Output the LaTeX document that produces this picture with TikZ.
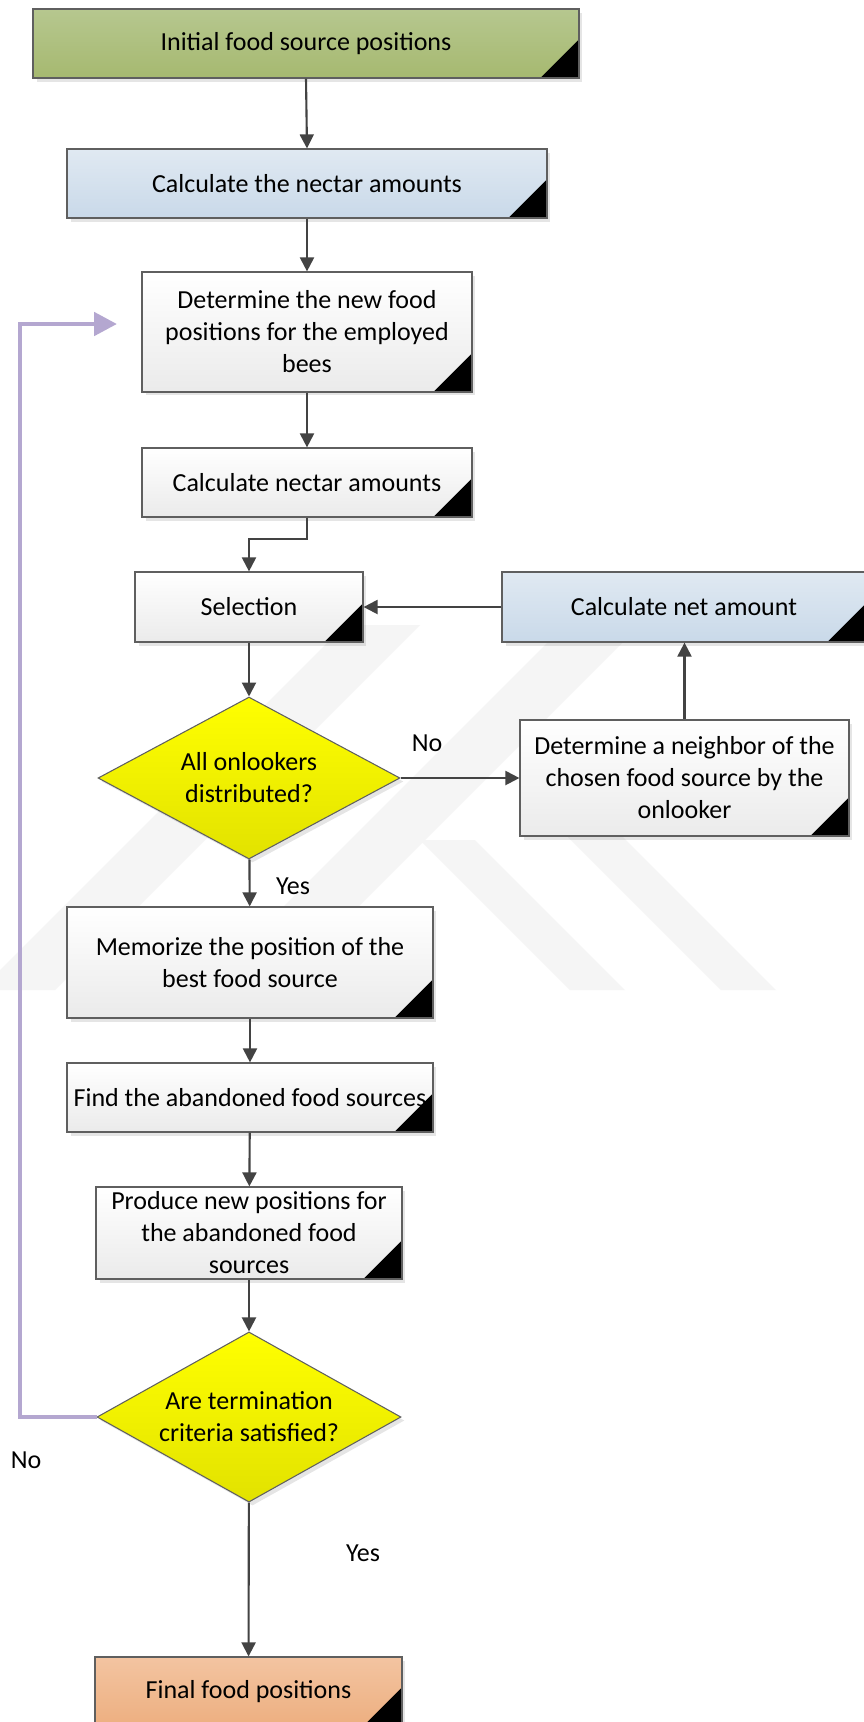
\documentclass[tikz,border=0pt]{standalone}
\usepackage{fontspec}
\setmainfont{Carlito}
\usetikzlibrary{arrows.meta,shapes.geometric,shadows}

\definecolor{edgec}{HTML}{5F5F5F}
\definecolor{arrowc}{HTML}{434343}
\definecolor{loopc}{HTML}{B4A7D0}
\definecolor{greentop}{HTML}{B6C78F}
\definecolor{greenbot}{HTML}{A6B970}
\definecolor{bluetop}{HTML}{E0E9F2}
\definecolor{bluebot}{HTML}{C9D9E9}
\definecolor{orangetop}{HTML}{F3C4A1}
\definecolor{orangebot}{HTML}{EDAF80}
\definecolor{yellowbot}{HTML}{E2E200}

\begin{document}
\begin{tikzpicture}[x=0.02cm,y=-0.02cm,
    box/.style={draw=edgec,line width=0.7pt,top color=white,bottom color=black!8,
        minimum height=1.38cm,inner sep=0pt,align=center,
        font=\fontsize{14.8pt}{18.2pt}\selectfont,
        drop shadow={shadow xshift=0.07cm,shadow yshift=-0.07cm,fill=black,opacity=0.1},
        path picture={\fill[black] (path picture bounding box.south east) -- ++(-0.77cm,0) -- ++(0.77cm,0.77cm) -- cycle;}},
    greenbox/.style={box,top color=greentop,bottom color=greenbot},
    bluebox/.style={box,top color=bluetop,bottom color=bluebot},
    orangebox/.style={box,top color=orangetop,bottom color=orangebot},
    cond/.style={diamond,draw=edgec,line width=0.6pt,top color=yellow,bottom color=yellowbot,
        inner sep=-0.3cm,align=center,font=\fontsize{14.8pt}{18.2pt}\selectfont,
        drop shadow={shadow xshift=0.07cm,shadow yshift=-0.07cm,fill=black,opacity=0.1}},
    lbl/.style={inner sep=0pt,font=\fontsize{14.8pt}{18.2pt}\selectfont},
    line/.style={draw=arrowc,line width=1.2pt,-{Triangle[length=0.28cm,width=0.28cm]}},
    loopline/.style={draw=loopc,line width=2.8pt,-{Triangle[length=0.46cm,width=0.46cm]}},
    wmark/.style={fill=black!4}]
    \useasboundingbox (0,0) rectangle (863,1722);
    \fill[white] (0,0) rectangle (863,1722);
    % faint watermark behind the chart
    \foreach \a/\t in {-20/625,200/630} \fill[wmark] (\a,990) -- ++(75,0) -- (\a+75+990-\t,\t) -- ++(-75,0) -- cycle;
    \foreach \a/\t in {420/840,568/837} \fill[wmark] (\a,\t) -- ++(55,0) -- (\a+55+990-\t,990) -- ++(-55,0) -- cycle;

    \node[greenbox,minimum width=10.92cm] (init) at (306,43.5) {Initial food source positions};
    \node[bluebox,minimum width=9.60cm] (nectar) at (307,183.5) {Calculate the nectar amounts};
    \node[box,minimum width=6.60cm,minimum height=2.40cm] (employed) at (307,332) {Determine the new food\\positions for the employed\\bees};
    \node[box,minimum width=6.60cm] (nectarb) at (307,482.5) {Calculate nectar amounts};
    \node[box,minimum width=4.56cm,minimum height=1.40cm] (select) at (249,607) {Selection};
    \node[bluebox,minimum width=7.28cm,minimum height=1.40cm] (net) at (684,607) {Calculate net amount};
    \node[cond,minimum width=6.04cm,minimum height=3.24cm] (onlook) at (249,778) {All onlookers\\distributed?};
    \node[box,minimum width=6.58cm,minimum height=2.32cm] (neighbor) at (684.5,778) {Determine a neighbor of the\\chosen food source by the\\onlooker};
    \node[box,minimum width=7.32cm,minimum height=2.22cm] (memo) at (250,962.5) {Memorize the position of the\\best food source};
    \node[box,minimum width=7.32cm] (find) at (250,1097.5) {Find the abandoned food sources};
    \node[box,minimum width=6.12cm,minimum height=1.84cm] (produce) at (249,1233) {Produce new positions for\\the abandoned food\\sources};
    \node[cond,minimum width=6.08cm,minimum height=3.26cm] (term) at (249,1417) {Are termination\\criteria satisfied?};
    \node[orangebox,minimum width=6.14cm] (final) at (248.5,1691.5) {Final food positions};

    \node[lbl] (no1) at (427,743) {No};
    \node[lbl] (yes1) at (293,886) {Yes};
    \node[lbl] (yes2) at (363,1553) {Yes};
    \node[lbl] (no2) at (26,1460) {No};

    \draw[line] (init.south) -- (nectar.north);
    \draw[line] (nectar.south -| employed.north) -- (employed.north);
    \draw[line] (employed) -- (nectarb);
    \draw[line] (nectarb.south) -- ++(0,21) -| (select.north);
    \draw[line] (net.west) -- (select.east);
    \draw[line] (select) -- (onlook);
    \draw[line] (onlook.east) -- (neighbor.west);
    \draw[line] (neighbor.north) -- (net.south -| neighbor.north);
    \draw[line] (onlook) -- (memo);
    \draw[line] (memo) -- (find);
    \draw[line] (find) -- (produce);
    \draw[line] (produce) -- (term);
    \draw[line] (term) -- (final);
    \coordinate (loopcorner) at (20,324);
    \coordinate (loopend) at (117,324);
    \draw[loopline] (term.west) -| (loopcorner) -- (loopend);
\end{tikzpicture}
\end{document}
